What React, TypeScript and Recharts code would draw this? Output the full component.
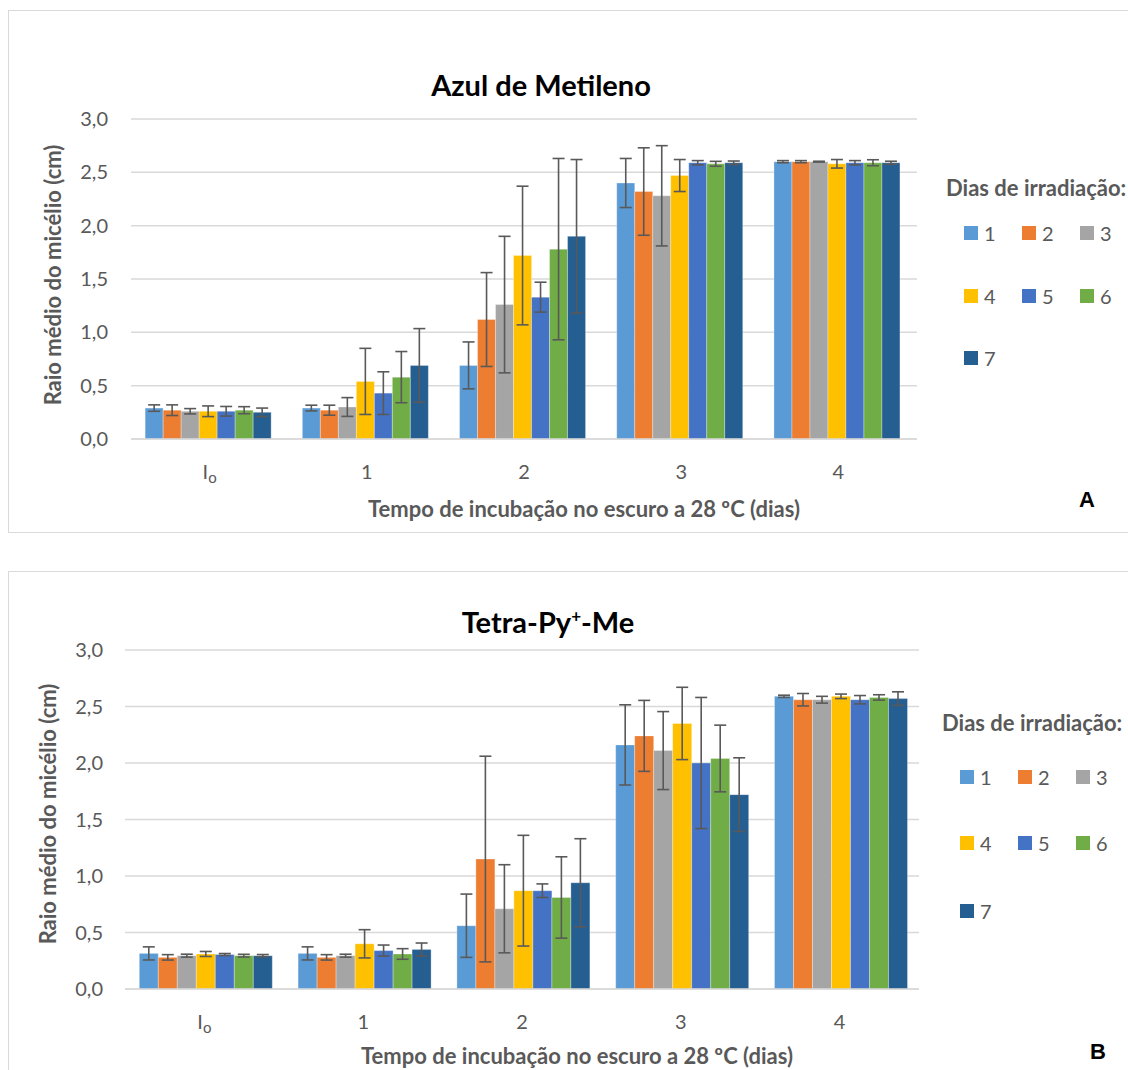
import { BarChart, Bar, XAxis, YAxis, CartesianGrid, ErrorBar } from 'recharts'

const categories = ['Io', '1', '2', '3', '4']
const days = ['1', '2', '3', '4', '5', '6', '7']
const COLORS = ['#5b9bd5', '#ed7d31', '#a5a5a5', '#ffc000', '#4472c4', '#70ad47', '#255e91']
const yTicks = [0, 0.5, 1, 1.5, 2, 2.5, 3]

// Azul de Metileno: mean radius per irradiation day (1..7), one array per incubation time
const azulIo = [0.29, 0.27, 0.26, 0.26, 0.26, 0.27, 0.25]
const azul1 = [0.29, 0.27, 0.3, 0.54, 0.43, 0.58, 0.69]
const azul2 = [0.69, 1.12, 1.26, 1.72, 1.33, 1.78, 1.9]
const azul3 = [2.4, 2.32, 2.28, 2.47, 2.59, 2.58, 2.59]
const azul4 = [2.6, 2.6, 2.6, 2.58, 2.59, 2.59, 2.59]
const azulIoErr = [0.03, 0.05, 0.025, 0.05, 0.045, 0.033, 0.04]
const azul1Err = [0.027, 0.047, 0.088, 0.31, 0.2, 0.24, 0.345]
const azul2Err = [0.22, 0.44, 0.64, 0.65, 0.14, 0.85, 0.72]
const azul3Err = [0.23, 0.41, 0.47, 0.15, 0.02, 0.023, 0.016]
const azul4Err = [0.01, 0.01, 0.004, 0.04, 0.02, 0.028, 0.014]

// Tetra-Py+-Me
const tetraIo = [0.315, 0.28, 0.295, 0.31, 0.305, 0.295, 0.295]
const tetra1 = [0.315, 0.28, 0.295, 0.4, 0.34, 0.31, 0.35]
const tetra2 = [0.56, 1.15, 0.71, 0.87, 0.87, 0.81, 0.94]
const tetra3 = [2.16, 2.24, 2.11, 2.35, 2.0, 2.04, 1.72]
const tetra4 = [2.59, 2.56, 2.56, 2.59, 2.56, 2.58, 2.57]
const tetraIoErr = [0.058, 0.024, 0.013, 0.022, 0.009, 0.012, 0.01]
const tetra1Err = [0.058, 0.024, 0.013, 0.125, 0.049, 0.047, 0.057]
const tetra2Err = [0.28, 0.91, 0.39, 0.49, 0.06, 0.36, 0.39]
const tetra3Err = [0.355, 0.314, 0.345, 0.32, 0.58, 0.295, 0.326]
const tetra4Err = [0.01, 0.055, 0.03, 0.02, 0.037, 0.024, 0.06]

const GRAY = '#595959'
const GRID = '#d9d9d9'
const FONT = 'Lato, "Open Sans", sans-serif'

function buildRows(means: number[][], errs: number[][]) {
  return categories.map((cat, i) => {
    const row: Record<string, string | number> = { cat }
    days.forEach((_, j) => {
      row[`d${j}`] = means[i][j]
      row[`e${j}`] = errs[i][j]
    })
    return row
  })
}

const azulRows = buildRows(
  [azulIo, azul1, azul2, azul3, azul4],
  [azulIoErr, azul1Err, azul2Err, azul3Err, azul4Err],
)
const tetraRows = buildRows(
  [tetraIo, tetra1, tetra2, tetra3, tetra4],
  [tetraIoErr, tetra1Err, tetra2Err, tetra3Err, tetra4Err],
)

const fmtTick = (v: number) => v.toFixed(1).replace('.', ',')

function CatTick(props: any) {
  const { x, y, payload } = props
  const ty = y + 40
  if (payload.value === 'Io') {
    return (
      <text x={x} y={ty} textAnchor="middle" fill={GRAY} fontSize={20} fontFamily={FONT}>
        I<tspan fontSize={15} dy={4}>o</tspan>
      </text>
    )
  }
  return (
    <text x={x} y={ty} textAnchor="middle" fill={GRAY} fontSize={20} fontFamily={FONT}>
      {payload.value}
    </text>
  )
}

function Chart({ data, width, height, margin, tickGap }: any) {
  return (
    <BarChart width={width} height={height} data={data} margin={margin} barGap={0} barCategoryGap="9%">
      <CartesianGrid vertical={false} stroke={GRID} strokeWidth={1.5} />
      <XAxis dataKey="cat" axisLine={{ stroke: GRID, strokeWidth: 1.5 }} tickLine={false} tickSize={0} tickMargin={0} tick={<CatTick />} interval={0} />
      <YAxis
        domain={[0, 3]}
        ticks={yTicks}
        tickFormatter={fmtTick}
        axisLine={false}
        tickLine={false}
        tickSize={0}
        tickMargin={tickGap}
        tick={{ fill: GRAY, fontSize: 20, fontFamily: FONT }}
      />
      {days.map((d, j) => (
        <Bar key={d} dataKey={`d${j}`} name={d} fill={COLORS[j]} stroke="#ffffff" strokeOpacity={0.5} strokeWidth={0.6} isAnimationActive={false}>
          <ErrorBar dataKey={`e${j}`} width={6} stroke={GRAY} strokeWidth={1.6} direction="y" isAnimationActive={false} />
        </Bar>
      ))}
    </BarChart>
  )
}

function Txt({ x, y, children, style }: any) {
  return (
    <div
      style={{
        position: 'absolute',
        left: x,
        top: y,
        transform: 'translate(-50%, -50%)',
        whiteSpace: 'nowrap',
        fontFamily: FONT,
        color: GRAY,
        ...style,
      }}
    >
      {children}
    </div>
  )
}

function Legend({ titleX, titleY, squareX, rowYs }: any) {
  return (
    <>
      <div
        style={{
          position: 'absolute',
          left: titleX,
          top: titleY,
          transform: 'translateY(-50%)',
          fontFamily: FONT,
          fontWeight: 700,
          fontSize: 22,
          color: GRAY,
          whiteSpace: 'nowrap',
        }}
      >
        Dias de irradiação:
      </div>
      {days.map((d, j) => {
        const col = j % 3
        const row = Math.floor(j / 3)
        const left = squareX + col * 58
        const cy = rowYs[row]
        return (
          <div key={d} style={{ position: 'absolute', left, top: cy - 11, height: 22, display: 'flex', alignItems: 'center' }}>
            <div style={{ width: 14, height: 14, background: COLORS[j] }} />
            <span style={{ marginLeft: 6, fontFamily: FONT, fontSize: 20, color: GRAY }}>{d}</span>
          </div>
        )
      })}
    </>
  )
}

const boxStyle = {
  position: 'absolute' as const,
  left: 8,
  width: 1140,
  border: `1.5px solid ${GRID}`,
  boxSizing: 'border-box' as const,
}

export default function App() {
  return (
    <div style={{ position: 'absolute', left: 0, top: 0, width: 1128, height: 1070, overflow: 'hidden', background: '#fff' }}>
      <div style={{ ...boxStyle, top: 10, height: 523 }} />
      <div style={{ ...boxStyle, top: 571, height: 520 }} />

      {/* Panel A */}
      <div style={{ position: 'absolute', left: 0, top: 0 }}>
        <Chart data={azulRows} width={1128} height={530} margin={{ top: 119, right: 211, left: 71, bottom: 61 }} tickGap={23} />
      </div>
      <Txt x={541} y={84} style={{ fontWeight: 700, fontSize: 29, color: '#000' }}>Azul de Metileno</Txt>
      <Txt x={52} y={275} style={{ fontWeight: 700, fontSize: 22, transform: 'translate(-50%, -50%) rotate(-90deg)' }}>
        Raio médio do micélio (cm)
      </Txt>
      <Txt x={584} y={508} style={{ fontWeight: 700, fontSize: 22 }}>Tempo de incubação no escuro a 28 ºC (dias)</Txt>
      <Txt x={1087} y={500} style={{ fontWeight: 700, fontSize: 22, color: '#000', fontFamily: 'Arial, "Liberation Sans", sans-serif' }}>A</Txt>
      <Legend titleX={946} titleY={187} squareX={964} rowYs={[233, 296, 358]} />

      {/* Panel B */}
      <div style={{ position: 'absolute', left: 0, top: 560 }}>
        <Chart data={tetraRows} width={1128} height={510} margin={{ top: 90, right: 209, left: 65, bottom: 51 }} tickGap={22} />
      </div>
      <Txt x={548} y={621} style={{ fontWeight: 700, fontSize: 29, color: '#000' }}>
        Tetra-Py<sup style={{ fontSize: 17 }}>+</sup>-Me
      </Txt>
      <Txt x={47} y={814} style={{ fontWeight: 700, fontSize: 22, transform: 'translate(-50%, -50%) rotate(-90deg)' }}>
        Raio médio do micélio (cm)
      </Txt>
      <Txt x={577} y={1055} style={{ fontWeight: 700, fontSize: 22 }}>Tempo de incubação no escuro a 28 ºC (dias)</Txt>
      <Txt x={1098} y={1052} style={{ fontWeight: 700, fontSize: 22, color: '#000', fontFamily: 'Arial, "Liberation Sans", sans-serif' }}>B</Txt>
      <Legend titleX={942} titleY={722} squareX={960} rowYs={[777, 843, 911]} />
    </div>
  )
}
